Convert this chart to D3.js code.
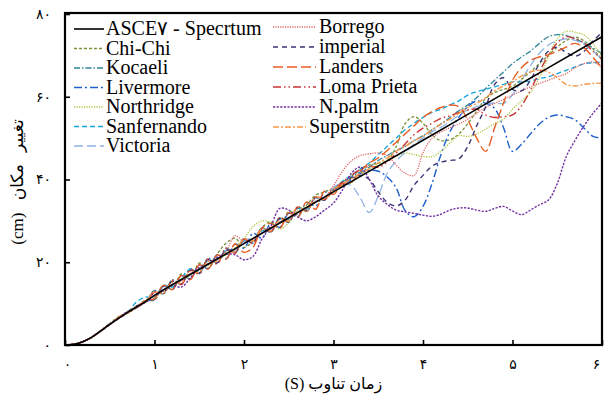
<!DOCTYPE html>
<html>
<head>
<meta charset="utf-8">
<script src="https://cdn.jsdelivr.net/npm/d3@7"></script>
<style>
  html, body { margin: 0; padding: 0; background: #fff; }
  svg { display: block; }
  .leg text { font-family: "Liberation Serif", "Times New Roman", serif; font-size: 20px; fill: #000; }
  .fa { font-family: "Liberation Serif", "DejaVu Sans", serif; fill: #000; }
</style>
</head>
<body>
<svg id="chart" width="604" height="398"></svg>
<script>
// Period axis (s) shared by the record spectra
const periods = d3.range(0, 61).map(i => i / 10);

// ASCE 7 design displacement spectrum (cm)
const asceT = [0, 0.1, 0.2, 0.3, 0.4, 0.5, 0.6, 0.7, 0.8, 0.9, 1.0, 2.0, 3.0, 4.0, 5.0, 6.0];
const asceD = [0, 0.2, 0.8, 1.9, 3.4, 5.0, 6.5, 7.9, 9.2, 10.5, 12.0, 24.5, 37.0, 49.5, 62.0, 74.5];

// Displacement spectra of the scaled records (cm), one value per period
const chiChi = [0,0.2,0.8,1.8,3.3,5.2,6.9,7.7,9.0,10.9,
  10.8,14.2,13.6,17.2,16.0,19.8,18.6,22.0,24.6,25.8,
  23.6,25.2,28.4,29.8,28.4,32.2,31.6,33.8,36.2,37.0,
  38.0,39.4,40.8,42.3,43.5,44.0,44.6,47.9,53.5,55.2,
  53.6,50.8,49.4,49.6,51.0,53.5,56.5,59.6,61.0,61.8,
  62.5,64.2,66.0,68.0,70.0,72.0,73.6,74.4,73.5,71.5,69.0];
const kocaeli = [0,0.2,0.8,1.9,3.5,5.1,6.4,8.1,9.4,10.3,
  13.2,12.4,15.8,14.8,18.4,17.2,21.0,19.8,23.4,22.2,
  25.8,24.6,28.4,27.2,30.8,29.6,33.4,32.2,35.8,35.2,
  37.6,39.2,40.6,41.8,43.0,44.6,45.8,47.0,48.0,49.4,
  50.6,52.0,53.4,55.0,56.6,58.0,59.8,62.0,64.0,66.0,
  68.0,69.6,71.0,72.9,74.5,75.0,74.8,74.0,73.0,71.8,70.4];
const livermore = [0,0.2,0.8,1.9,3.4,4.9,6.6,7.8,9.3,10.6,
  11.0,14.2,13.4,16.8,16.0,19.4,18.4,21.8,20.8,24.4,
  23.4,27.0,25.8,29.4,28.4,31.8,31.0,34.4,33.6,36.8,
  37.4,38.6,40.0,41.4,42.2,42.0,40.6,38.0,32.5,31.0,
  33.5,39.0,46.0,51.5,55.0,57.6,59.0,58.4,57.2,52.5,
  46.8,48.5,51.0,53.4,55.0,55.6,55.2,54.4,52.4,50.4,50.0];
const northridge = [0,0.2,0.8,1.9,3.3,5.0,6.6,8.0,9.3,10.4,
  11.8,13.3,14.4,15.9,16.8,18.4,19.3,21.0,21.8,23.6,
  25.8,28.6,30.0,29.6,28.0,29.6,32.6,33.6,34.4,35.6,
  37.4,38.6,39.2,41.0,42.6,43.4,44.6,45.6,46.4,46.0,
  45.6,45.5,46.8,48.8,50.6,50.4,51.0,52.2,53.5,54.6,
  57.0,59.0,61.0,64.5,69.5,74.0,75.8,75.6,74.9,72.8,69.6];
const sanfernando = [0,0.2,0.8,1.9,3.5,5.1,6.6,7.9,10.4,11.6,
  11.4,14.4,14.0,16.2,18.4,17.6,20.4,20.0,22.8,22.6,
  25.2,25.4,27.6,27.6,30.4,30.4,33.0,32.8,35.6,35.2,
  37.8,39.6,41.0,42.6,44.0,46.0,48.0,50.0,52.0,53.6,
  55.0,56.2,57.0,58.0,59.0,60.4,61.2,61.8,62.4,63.0,
  63.6,63.6,63.8,64.4,64.8,65.6,66.4,67.2,68.0,68.2,68.4];
const victoria = [0,0.2,0.8,1.9,3.4,5.0,6.5,8.0,9.1,10.4,
  12.1,13.1,14.7,15.6,17.2,18.0,19.7,20.6,22.2,23.0,
  24.7,25.6,27.2,28.0,29.8,30.5,32.2,33.0,34.7,35.5,
  38.0,39.0,38.5,35.5,32.0,36.0,41.5,44.5,46.5,48.5,
  50.0,51.5,52.6,54.0,55.5,56.8,57.6,58.2,58.5,58.4,
  60.5,64.0,67.5,70.5,72.5,73.5,74.0,73.6,72.6,71.0,69.0];
const borrego = [0,0.2,0.8,1.9,3.4,5.0,6.5,7.9,9.3,10.6,
  12.0,13.0,14.7,15.5,17.2,18.2,19.6,20.6,22.6,26.4,
  25.0,25.4,27.0,28.6,29.4,30.8,32.2,33.0,34.8,35.6,
  38.5,42.0,44.5,45.8,46.2,46.4,45.8,43.5,41.5,41.0,
  46.5,50.0,51.5,52.5,53.4,54.6,56.0,57.4,58.4,59.4,
  60.4,61.4,62.4,63.2,64.0,64.8,65.6,67.0,68.0,68.4,67.0];
const imperial = [0,0.2,0.8,1.9,3.4,5.1,6.4,7.8,9.4,10.5,
  12.6,12.6,15.4,14.8,18.0,17.4,20.6,19.8,23.0,22.4,
  25.4,24.8,28.0,27.4,30.6,29.8,33.2,32.4,35.6,35.0,
  37.6,38.5,40.4,41.0,40.0,37.0,34.5,33.6,35.0,38.6,
  41.0,43.2,44.2,44.6,45.0,48.0,53.0,57.5,63.0,64.6,
  61.8,61.4,64.0,68.0,71.0,72.0,70.7,69.8,71.0,73.5,75.5];
const landers = [0,0.2,0.8,1.9,3.4,5.0,6.7,7.8,9.2,10.7,
  11.2,14.4,13.4,16.8,15.8,19.4,18.4,21.8,20.8,24.4,
  22.4,23.6,28.2,29.4,28.2,32.0,30.8,34.6,32.8,37.2,
  36.4,39.0,39.4,42.0,44.0,45.2,47.0,49.0,51.0,53.0,
  55.0,56.4,57.4,58.0,57.6,54.4,50.0,46.8,52.5,58.5,
  64.0,67.0,68.8,69.6,70.2,71.0,72.0,72.9,71.8,69.5,67.0];
const lomaPrieta = [0,0.2,0.8,1.9,3.4,5.1,6.5,8.0,9.0,10.6,
  12.8,12.4,15.6,14.6,18.2,17.2,20.8,19.6,23.4,22.2,
  25.6,24.6,28.2,27.4,30.8,29.8,33.4,32.4,35.8,35.2,
  37.4,39.4,41.0,42.4,43.2,43.0,44.2,46.4,48.6,50.8,
  52.4,53.6,54.8,55.4,56.2,56.8,57.0,55.6,55.0,55.2,
  55.6,57.8,61.6,66.0,70.0,73.0,74.5,74.0,73.0,71.0,69.0];
const nPalm = [0,0.2,0.8,1.9,3.4,4.9,6.5,8.1,9.1,10.3,
  12.0,13.4,14.4,14.0,16.2,18.8,19.6,21.2,22.0,21.8,
  20.6,21.4,25.6,28.8,33.0,32.6,31.0,30.0,31.0,32.6,
  34.3,37.5,41.5,43.0,40.0,36.0,34.0,32.6,32.2,31.8,
  31.4,31.1,31.6,32.6,33.1,33.1,32.6,32.3,33.0,33.5,
  32.4,31.5,32.6,33.9,35.0,39.0,45.5,49.5,53.0,56.0,58.5];
const superstitn = [0,0.2,0.8,1.9,3.4,5.0,6.6,7.9,9.4,10.4,
  12.8,12.6,15.2,15.0,17.8,17.6,20.2,20.2,22.4,22.6,
  25.6,25.2,28.0,27.6,30.2,30.0,33.4,32.2,35.8,35.2,
  37.6,38.8,40.2,41.4,42.6,44.0,45.2,46.8,48.0,49.4,
  50.4,52.0,53.4,54.6,56.0,57.4,58.4,59.8,61.4,62.6,
  63.6,65.0,66.0,66.4,66.0,64.6,63.0,62.6,63.0,63.2,63.3];

// Axis tick values and their Persian labels
const xTicks = [0, 1, 2, 3, 4, 5, 6];
const yTicks = [0, 20, 40, 60, 80];
const faDigits = "۰۱۲۳۴۵۶۷۸۹";
const toFa = n => String(n).replace(/\d/g, d => faDigits[+d]);

// Series styling, in legend order (left column, then right column)
const series = [
  { name: "ASCE۷ - Specrtum", t: asceT, d: asceD, color: "#000000", dash: null, w: 1.6, col: 0 },
  { name: "Chi-Chi",     t: periods, d: chiChi,      color: "#77933c", dash: "3,2",          w: 1.3, col: 0 },
  { name: "Kocaeli",     t: periods, d: kocaeli,     color: "#31859c", dash: "6,2,1.5,2",    w: 1.3, col: 0 },
  { name: "Livermore",   t: periods, d: livermore,   color: "#1f5fcc", dash: "8,3,2,3",      w: 1.4, col: 0 },
  { name: "Northridge",  t: periods, d: northridge,  color: "#a8c83c", dash: "1.2,1.3",      w: 1.3, col: 0 },
  { name: "Sanfernando", t: periods, d: sanfernando, color: "#17a3dc", dash: "5,3",          w: 1.3, col: 0 },
  { name: "Victoria",    t: periods, d: victoria,    color: "#8db3e2", dash: "9,4",          w: 1.3, col: 0 },
  { name: "Borrego",     t: periods, d: borrego,     color: "#e06666", dash: "1.2,1.2",      w: 1.3, col: 1 },
  { name: "imperial",    t: periods, d: imperial,    color: "#3d3275", dash: "5,4",          w: 1.4, col: 1 },
  { name: "Landers",     t: periods, d: landers,     color: "#ea5b1f", dash: "10,4",         w: 1.4, col: 1 },
  { name: "Loma Prieta", t: periods, d: lomaPrieta,  color: "#cc3333", dash: "8,3,1.5,3,1.5,3", w: 1.4, col: 1 },
  { name: "N.palm",      t: periods, d: nPalm,       color: "#7030a0", dash: "2.2,1.4",      w: 1.4, col: 1 },
  { name: "Superstitn",  t: periods, d: superstitn,  color: "#f79646", dash: "6,2,2,2",      w: 1.4, col: 1 }
];

const svg = d3.select("#chart");
const plotL = 65, plotR = 602, plotT = 13, plotB = 345;

const x = d3.scaleLinear().domain([0, 6]).range([plotL, plotR]);
const y = d3.scaleLinear().domain([0, 80]).range([plotB, plotT + 1]);

svg.append("defs").append("clipPath").attr("id", "plot")
  .append("rect").attr("x", plotL).attr("y", plotT).attr("width", plotR - plotL).attr("height", plotB - plotT);

const line = d3.line()
  .x(p => x(p[0]))
  .y(p => y(p[1]))
  .curve(d3.curveCatmullRom.alpha(0.5));

const lines = svg.append("g").attr("clip-path", "url(#plot)");
// records first, design spectrum on top
series.slice(1).concat(series.slice(0, 1)).forEach(s => {
  lines.append("path")
    .datum(s.t.map((t, i) => [t, s.d[i]]))
    .attr("d", line)
    .attr("fill", "none")
    .attr("stroke", s.color)
    .attr("stroke-width", s.w)
    .attr("stroke-dasharray", s.dash)
    .attr("stroke-linejoin", "round");
});

// Axes with inward ticks and Persian numerals
const xAxis = svg.append("g").attr("transform", `translate(0,${plotB})`)
  .call(d3.axisBottom(x).tickValues(xTicks).tickSizeInner(-5).tickSizeOuter(0).tickPadding(14).tickFormat(toFa));
const yAxis = svg.append("g").attr("transform", `translate(${plotL},0)`)
  .call(d3.axisLeft(y).tickValues(yTicks).tickSizeInner(-5).tickSizeOuter(0).tickPadding(14).tickFormat(toFa));
[xAxis, yAxis].forEach(g => {
  g.select(".domain").remove();
  g.selectAll(".tick line").attr("stroke", "#000").attr("stroke-width", 1.6);
  g.selectAll(".tick text").attr("class", "fa").style("font-size", "14px");
});
// keep the first and last period labels inside the page
xAxis.selectAll(".tick text").filter(d => d === 6).attr("dx", -6);
xAxis.selectAll(".tick text").filter(d => d === 0).attr("dx", 2);

// Plot frame
svg.append("rect")
  .attr("x", plotL).attr("y", plotT).attr("width", plotR - plotL).attr("height", plotB - plotT)
  .attr("fill", "none").attr("stroke", "#000").attr("stroke-width", 2.2);

// Axis titles
svg.append("text").attr("class", "fa")
  .attr("x", (plotL + plotR) / 2).attr("y", 389)
  .attr("text-anchor", "middle").attr("direction", "rtl")
  .style("font-size", "16px")
  .text("زمان تناوب (S)");
svg.append("text").attr("class", "fa")
  .attr("transform", "translate(23,182) rotate(-90)")
  .attr("text-anchor", "middle").attr("direction", "rtl")
  .style("font-size", "17px").style("word-spacing", "8px")
  .text("تغییر مکان (cm)");

// Legend in two columns
const leg = svg.append("g").attr("class", "leg");
const colDef = [
  { x1: 74, x2: 104, tx: 106, y0: 35, dy: 19.5 },
  { x1: 273, x2: 316, tx: 319, y0: 33, dy: 20 }
];
const rowIdx = [0, 0];
series.forEach(s => {
  const c = colDef[s.col];
  const r = rowIdx[s.col]++;
  const by = c.y0 + r * c.dy;
  const short = s.name === "Superstitn";
  leg.append("line")
    .attr("x1", c.x1).attr("x2", short ? c.x2 - 10 : c.x2)
    .attr("y1", by - 6).attr("y2", by - 6)
    .attr("stroke", s.color).attr("stroke-width", s.w)
    .attr("stroke-dasharray", s.dash);
  leg.append("text")
    .attr("x", short ? c.tx - 10 : c.tx).attr("y", by)
    .text(s.name);
});
</script>
</body>
</html>
